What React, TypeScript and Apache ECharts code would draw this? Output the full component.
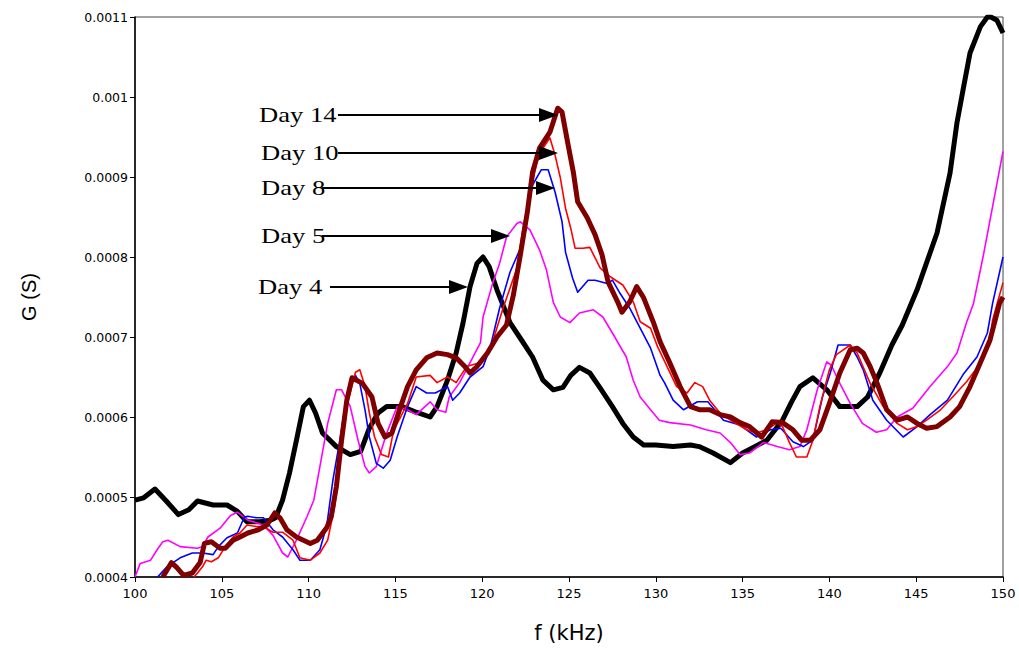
import React, { useEffect, useRef } from "react";
import * as echarts from "echarts";

const seriesNames = ["Day 4", "Day 5", "Day 8", "Day 10", "Day 14"];
const xTicks = { min: 100, max: 150, interval: 5 };
const yTicks = { min: 0.0004, max: 0.0011, interval: 0.0001 };

const day4: number[][] = [
  [100, 0.000496], [100.5, 0.000499], [101.15, 0.00051], [101.8, 0.000495], [102.5, 0.000478],
  [103.1, 0.000484], [103.6, 0.000495], [104.5, 0.00049], [105.3, 0.00049], [105.9, 0.000482],
  [106.45, 0.000469], [107.2, 0.000469], [107.8, 0.000471], [108.1, 0.000474], [108.5, 0.000496],
  [108.9, 0.00053], [109.3, 0.000571], [109.7, 0.000613], [110.05, 0.000621], [110.4, 0.000605],
  [110.8, 0.00058], [111.6, 0.000563], [112.4, 0.000553], [113.0, 0.000557], [113.5, 0.000586],
  [114.0, 0.000605], [114.5, 0.000613], [115.4, 0.000613], [116.2, 0.000606], [117.0, 0.0006],
  [117.4, 0.000613], [118.0, 0.000646], [118.5, 0.00068], [118.9, 0.000718], [119.3, 0.000763],
  [119.7, 0.000792], [120.05, 0.0008], [120.4, 0.000788], [120.85, 0.000759], [121.6, 0.000718],
  [122.3, 0.000695], [122.9, 0.000675], [123.5, 0.000646], [124.1, 0.000634], [124.65, 0.000637],
  [125.1, 0.000652], [125.6, 0.000662], [126.2, 0.000655], [126.8, 0.000636], [127.5, 0.000613],
  [128.1, 0.000592], [128.7, 0.000575], [129.3, 0.000565], [130.0, 0.000565], [131.0, 0.000563],
  [132.0, 0.000565], [132.5, 0.000563], [133.3, 0.000555], [134.3, 0.000543], [135.0, 0.000555],
  [135.7, 0.000563], [136.4, 0.000571], [137.3, 0.000596], [137.8, 0.000618], [138.3, 0.000638],
  [139.05, 0.000649], [139.85, 0.000634], [140.6, 0.000613], [141.6, 0.000613], [142.2, 0.000625],
  [142.9, 0.000655], [143.6, 0.00069], [144.2, 0.000715], [145.05, 0.000759], [146.2, 0.00083],
  [146.95, 0.000905], [147.35, 0.000968], [147.7, 0.001009], [148.1, 0.001055], [148.7, 0.001088],
  [149.1, 0.0011], [149.3, 0.0011], [149.65, 0.001096], [150, 0.00108],
];

const day5: number[][] = [
  [100.0, 0.0004], [100.3, 0.000417], [100.9, 0.000421], [101.3, 0.000435], [101.6, 0.000444],
  [101.9, 0.000446], [102.6, 0.000438], [103.6, 0.000436], [103.9, 0.000438], [104.2, 0.00045],
  [104.9, 0.000461], [105.5, 0.000477], [105.9, 0.000481], [106.5, 0.000471], [107.4, 0.000465],
  [107.95, 0.000452], [108.5, 0.00043], [108.8, 0.000425], [109.3, 0.000446], [109.9, 0.000475],
  [110.3, 0.000496], [110.65, 0.000538], [111.1, 0.000592], [111.6, 0.000634], [111.9, 0.000634],
  [112.4, 0.000613], [112.85, 0.000571], [113.25, 0.000538], [113.5, 0.00053], [113.9, 0.000538],
  [114.5, 0.00058], [115.1, 0.000613], [115.7, 0.000609], [116.2, 0.000603], [117.0, 0.000619],
  [117.4, 0.000609], [117.9, 0.000606], [118.1, 0.000625], [118.7, 0.000643], [119.3, 0.000668],
  [119.9, 0.000693], [120.05, 0.000725], [120.6, 0.000767], [121.0, 0.000792], [121.4, 0.000825],
  [122.0, 0.000842], [122.2, 0.000844], [122.75, 0.000834], [123.3, 0.000809], [123.7, 0.000784],
  [124.1, 0.000743], [124.5, 0.000725], [125.05, 0.000718], [125.6, 0.00073], [126.4, 0.000734],
  [126.95, 0.000725], [127.5, 0.000705], [128.3, 0.000675], [128.7, 0.000646], [129.1, 0.000625],
  [129.7, 0.000609], [130.2, 0.000596], [130.8, 0.000593], [132.0, 0.00059], [132.9, 0.000584],
  [133.7, 0.00058], [134.3, 0.000568], [134.85, 0.000553], [135.4, 0.000555], [136.2, 0.000568],
  [137.0, 0.000563], [137.7, 0.000559], [138.3, 0.000563], [138.7, 0.000584], [139.3, 0.000634],
  [139.85, 0.000669], [140.1, 0.000665], [140.6, 0.000642], [141.2, 0.000617], [141.9, 0.000592],
  [142.7, 0.000581], [143.3, 0.000584], [143.9, 0.0006], [144.8, 0.000611], [145.8, 0.000638],
  [146.8, 0.000663], [147.35, 0.00068], [147.9, 0.000718], [148.3, 0.000742], [148.85, 0.0008],
  [149.4, 0.000863], [150, 0.000932],
];

const day8: number[][] = [
  [101.3, 0.0004], [101.85, 0.000413], [102.6, 0.000424], [103.3, 0.00043], [103.9, 0.00043],
  [104.5, 0.000428], [104.8, 0.000438], [105.3, 0.000449], [105.9, 0.000455], [106.3, 0.000475],
  [106.5, 0.000476], [107.0, 0.000474], [107.4, 0.000474], [107.95, 0.000459], [108.5, 0.00045],
  [109.1, 0.000434], [109.5, 0.000421], [110.1, 0.000421], [110.65, 0.000434], [111.05, 0.000465],
  [111.4, 0.000521], [111.8, 0.000571], [112.1, 0.000613], [112.4, 0.000642], [112.7, 0.000652],
  [112.95, 0.000642], [113.25, 0.000609], [113.5, 0.000575], [113.9, 0.000542], [114.3, 0.000536],
  [114.7, 0.000546], [115.1, 0.000575], [115.7, 0.000613], [116.2, 0.000638], [116.8, 0.00063],
  [117.3, 0.00063], [118.0, 0.000638], [118.3, 0.000621], [118.7, 0.00063], [119.3, 0.00065],
  [120.05, 0.000663], [120.45, 0.000686], [121.0, 0.000736], [121.6, 0.000781], [122.2, 0.000811],
  [122.6, 0.000856], [122.9, 0.00089], [123.4, 0.000909], [123.8, 0.000909], [124.2, 0.000881],
  [124.6, 0.000844], [124.8, 0.000806], [125.2, 0.000774], [125.5, 0.000756], [126.1, 0.000771],
  [126.5, 0.000771], [127.2, 0.000767], [127.5, 0.000771], [127.9, 0.000756], [128.5, 0.000736],
  [129.1, 0.000711], [129.7, 0.000686], [130.25, 0.000652], [130.5, 0.000643], [131.0, 0.000621],
  [131.6, 0.000609], [132.4, 0.000619], [133.0, 0.000619], [133.9, 0.000596], [134.85, 0.00059],
  [135.8, 0.000575], [136.6, 0.000584], [137.2, 0.000586], [137.9, 0.000569], [138.5, 0.000563],
  [139.05, 0.000571], [139.6, 0.000625], [140.05, 0.000655], [140.5, 0.00069], [141.2, 0.00069],
  [141.6, 0.000675], [141.95, 0.000659], [142.5, 0.000621], [143.3, 0.000596], [144.25, 0.000575],
  [145.05, 0.000588], [145.8, 0.000603], [146.8, 0.000621], [147.7, 0.000653], [148.5, 0.000675],
  [149.1, 0.000705], [149.4, 0.000742], [150, 0.0008],
];

const day10: number[][] = [
  [103.4, 0.0004], [103.6, 0.000405], [103.9, 0.000413], [104.1, 0.000421], [104.4, 0.000419],
  [104.8, 0.000424], [105.2, 0.000438], [105.65, 0.00045], [106.05, 0.000455], [106.45, 0.000465],
  [107.0, 0.000463], [107.4, 0.000463], [107.95, 0.000456], [108.5, 0.000456], [109.1, 0.000446],
  [109.5, 0.000424], [110.1, 0.000421], [110.65, 0.00043], [111.1, 0.000446], [111.5, 0.000488],
  [111.8, 0.000546], [112.2, 0.000613], [112.7, 0.000656], [112.95, 0.000659], [113.25, 0.000638],
  [113.5, 0.000605], [113.8, 0.000575], [114.2, 0.000553], [114.6, 0.00055], [114.9, 0.000584],
  [115.3, 0.0006], [115.7, 0.000617], [116.2, 0.00065], [117.0, 0.000652], [117.4, 0.000643],
  [118.0, 0.00065], [118.5, 0.000643], [119.1, 0.000663], [119.9, 0.000668], [120.6, 0.000694],
  [121.2, 0.000736], [121.6, 0.000761], [122.0, 0.000786], [122.35, 0.000836], [122.75, 0.000877],
  [123.15, 0.000919], [123.5, 0.000936], [123.9, 0.000949], [124.2, 0.000927], [124.5, 0.000899],
  [124.8, 0.000861], [125.1, 0.000836], [125.35, 0.000811], [125.8, 0.000811], [126.2, 0.000812],
  [126.8, 0.000786], [127.4, 0.000775], [128.1, 0.000765], [128.7, 0.000744], [129.1, 0.000719],
  [129.7, 0.000711], [130.1, 0.000688], [130.65, 0.000663], [131.2, 0.000638], [131.8, 0.00063],
  [132.25, 0.000643], [132.7, 0.000638], [133.1, 0.000621], [133.7, 0.000605], [134.45, 0.000594],
  [135.25, 0.000584], [135.8, 0.00058], [136.4, 0.000584], [137.0, 0.000593], [137.3, 0.000588],
  [137.7, 0.000568], [138.1, 0.00055], [138.7, 0.00055], [139.05, 0.000571], [139.45, 0.000613],
  [140.0, 0.000659], [140.4, 0.000678], [140.8, 0.000684], [141.2, 0.00069], [141.6, 0.00068],
  [142.35, 0.000642], [143.1, 0.000613], [143.9, 0.000592], [144.5, 0.000584], [145.05, 0.000588],
  [145.6, 0.000596], [146.4, 0.000609], [147.1, 0.000625], [147.9, 0.000644], [148.7, 0.000667],
  [149.25, 0.000696], [149.4, 0.000721], [150, 0.000768],
];

const day14: number[][] = [
  [101.6, 0.0004], [102.1, 0.000418], [102.4, 0.000412], [102.8, 0.000402], [103.3, 0.000405],
  [103.75, 0.000418], [104.0, 0.000442], [104.4, 0.000444], [104.9, 0.000436], [105.2, 0.000436],
  [105.65, 0.000446], [106.05, 0.00045], [106.5, 0.000455], [107.1, 0.000459], [107.6, 0.000465],
  [108.05, 0.00048], [108.35, 0.000474], [108.75, 0.000459], [109.3, 0.00045], [110.1, 0.000442],
  [110.5, 0.000446], [111.05, 0.000462], [111.3, 0.000475], [111.6, 0.000513], [111.9, 0.000571],
  [112.2, 0.000621], [112.5, 0.000649], [113.1, 0.000642], [113.65, 0.000625], [114.0, 0.000592],
  [114.4, 0.000575], [114.8, 0.00058], [115.3, 0.000613], [115.7, 0.000638], [116.2, 0.000659],
  [116.8, 0.000674], [117.4, 0.00068], [118.0, 0.000678], [118.5, 0.000674], [119.0, 0.000663],
  [119.3, 0.000655], [119.7, 0.000663], [120.3, 0.00068], [120.85, 0.0007], [121.4, 0.000715],
  [121.8, 0.000753], [122.2, 0.000803], [122.6, 0.000856], [122.9, 0.000906], [123.3, 0.000936],
  [123.9, 0.000956], [124.35, 0.000986], [124.6, 0.000981], [124.95, 0.00094], [125.25, 0.000906],
  [125.5, 0.000869], [126.05, 0.000849], [126.5, 0.000828], [126.9, 0.000803], [127.25, 0.000769],
  [127.8, 0.000744], [128.05, 0.000731], [128.5, 0.000744], [128.9, 0.000763], [129.3, 0.000749],
  [129.85, 0.000719], [130.25, 0.000694], [130.8, 0.000668], [131.4, 0.000638], [132.0, 0.000613],
  [132.55, 0.000609], [133.1, 0.000609], [133.7, 0.000603], [134.3, 0.0006], [134.85, 0.000593],
  [135.4, 0.000588], [136.1, 0.000575], [136.7, 0.000594], [137.3, 0.000593], [137.9, 0.000584],
  [138.4, 0.000571], [138.9, 0.000571], [139.45, 0.000584], [140.0, 0.000617], [140.6, 0.000655],
  [141.2, 0.000684], [141.6, 0.000686], [141.95, 0.00068], [142.35, 0.000663], [142.75, 0.000642],
  [143.3, 0.000609], [143.9, 0.000596], [144.5, 0.0006], [145.05, 0.000592], [145.6, 0.000586],
  [146.2, 0.000588], [146.95, 0.0006], [147.5, 0.000613], [148.1, 0.000638], [148.7, 0.000668],
  [149.25, 0.000696], [149.8, 0.000742], [150, 0.00075],
];

const seriesData = [day4, day5, day8, day10, day14];
const seriesColors = ["#000000", "#FF00FF", "#0000FF", "#FF0000", "#800000"];
const seriesWidths = [5, 1.6, 1.6, 1.6, 5];

// annotation labels (text, label left x, label y, line start x, arrow tip x)
const annotations = [
  { text: "Day 14", lx: 259, y: 115, x0: 338, tip: 558 },
  { text: "Day 10", lx: 261, y: 153, x0: 338, tip: 558 },
  { text: "Day 8", lx: 261, y: 188, x0: 322, tip: 555 },
  { text: "Day 5", lx: 261, y: 236, x0: 322, tip: 510 },
  { text: "Day 4", lx: 258, y: 287, x0: 330, tip: 468 },
];

export default function App() {
  const ref = useRef<HTMLDivElement>(null);
  useEffect(() => {
    if (!ref.current) return;
    const chart = echarts.init(ref.current, undefined, { renderer: "svg" });
    const graphic: any[] = [];
    annotations.forEach((a) => {
      graphic.push({
        type: "text",
        x: a.lx,
        y: a.y,
        scaleX: 1.33,
        style: {
          text: a.text,
          font: '20px "Liberation Serif", "Times New Roman", serif',
          fill: "#000",
          verticalAlign: "middle",
          align: "left",
        },
        z: 100,
      });
      graphic.push({
        type: "line",
        shape: { x1: a.x0, y1: a.y, x2: a.tip - 16, y2: a.y },
        style: { stroke: "#000", lineWidth: 2 },
        z: 100,
      });
      graphic.push({
        type: "polygon",
        shape: { points: [[a.tip, a.y], [a.tip - 19, a.y - 7], [a.tip - 19, a.y + 7]] },
        style: { fill: "#000" },
        z: 100,
      });
    });
    chart.setOption({
      animation: false,
      backgroundColor: "#ffffff",
      grid: { left: 135, right: 16, top: 17, bottom: 78, show: true, borderColor: "#444", borderWidth: 1 },
      xAxis: {
        type: "value",
        min: xTicks.min,
        max: xTicks.max,
        interval: xTicks.interval,
        name: "f (kHz)",
        nameLocation: "middle",
        nameGap: 45,
        nameTextStyle: { fontFamily: "DejaVu Sans", fontSize: 21, color: "#000" },
        axisLine: { lineStyle: { color: "#000", width: 1.5 } },
        axisTick: { show: true, length: 5, lineStyle: { color: "#000" } },
        axisLabel: { fontFamily: "DejaVu Sans", fontSize: 13, color: "#000", margin: 10 },
        splitLine: { show: false },
      },
      yAxis: {
        type: "value",
        min: yTicks.min,
        max: yTicks.max,
        interval: yTicks.interval,
        name: "G (S)",
        nameLocation: "middle",
        nameRotate: 90,
        nameGap: 96,
        nameTextStyle: { fontFamily: "Liberation Sans", fontSize: 20, color: "#000" },
        axisLine: { show: true, lineStyle: { color: "#000", width: 1.5 } },
        axisTick: { show: true, length: 5, lineStyle: { color: "#000" } },
        axisLabel: {
          fontFamily: "DejaVu Sans",
          fontSize: 12.5,
          color: "#000",
          margin: 7,
          formatter: (v: number) => String(parseFloat(v.toFixed(4))),
        },
        splitLine: { show: false },
      },
      series: seriesData.map((d, i) => ({
        name: seriesNames[i],
        type: "line",
        data: d,
        showSymbol: false,
        symbol: "none",
        clip: true,
        lineStyle: { color: seriesColors[i], width: seriesWidths[i], join: "round" },
        itemStyle: { color: seriesColors[i] },
        z: 2 + i,
      })),
      graphic,
    });
    return () => chart.dispose();
  }, []);
  return (
    <div
      ref={ref}
      style={{ position: "fixed", left: 0, top: 0, width: 1019, height: 655, background: "#fff" }}
    />
  );
}
